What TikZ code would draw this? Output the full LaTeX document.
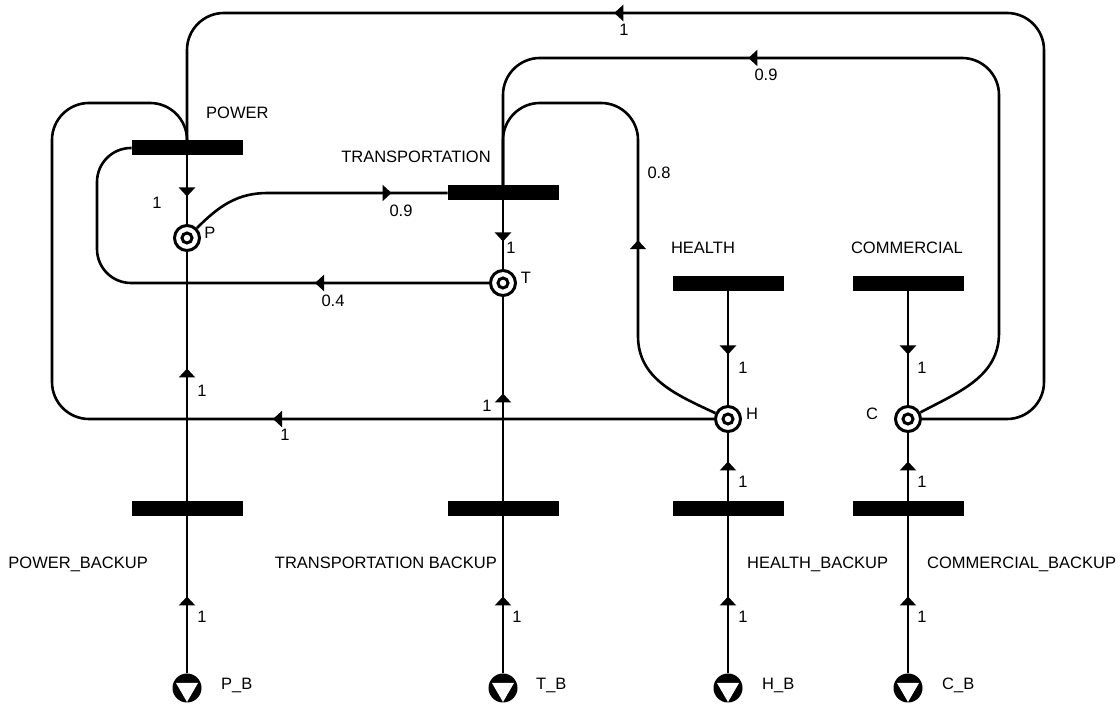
\documentclass[tikz,border=0pt]{standalone}
\usepackage{fontspec}
\setmainfont{Liberation Sans}
\usetikzlibrary{arrows.meta,decorations.markings}
\tikzset{
    pn-bar/.style = {fill=black, rectangle, minimum width=111pt, minimum height=15pt, inner sep=0pt, outer sep=0pt},
    pn-place/.style = {draw, circle, line width=3pt, fill=white, minimum size=25pt, inner sep=0pt,
        path picture={\draw[line width=3pt] (path picture bounding box.center) circle (5pt);}},
    pn-source/.style = {circle, fill=black, minimum size=29pt, inner sep=0pt, outer sep=0pt,
        path picture={\fill[white] ([shift={(-11pt,5pt)}]path picture bounding box.center) -- ++(22pt,0pt) -- ++(-11pt,-19pt) -- cycle;}},
    pn-arc/.style = {line width=2.6pt, rounded corners=37pt, postaction={decorate},
        decoration={markings, mark=at position #1 with {\arrow{Triangle[width=16pt,length=9pt]}}}},
    pn-label/.style = {font=\fontsize{16.5}{19}\selectfont, inner sep=0pt, text height=11.5pt, text depth=0pt},
}

\begin{document}
\begin{tikzpicture}[x=1pt, y=1pt]
\useasboundingbox (0,0) rectangle (1120,708);

% transitions
\node[pn-bar] (pow) at (187,560) {};
\node[pn-bar] (tra) at (503,515) {};
\node[pn-bar] (hea) at (728,424) {};
\node[pn-bar] (com) at (908,424) {};
\node[pn-bar] (powb) at (187,199) {};
\node[pn-bar] (trab) at (503,199) {};
\node[pn-bar] (heab) at (728,199) {};
\node[pn-bar] (comb) at (908,199) {};

% places
\node[pn-place] (P) at (187,470) {};
\node[pn-place] (T) at (503,425) {};
\node[pn-place] (H) at (728,289) {};
\node[pn-place] (C) at (908,289) {};

% sources
\node[pn-source] (pb) at (187,20) {};
\node[pn-source] (tb) at (503,20) {};
\node[pn-source] (hb) at (728,20) {};
\node[pn-source] (cb) at (908,20) {};

% arcs
\draw[pn-arc=41pt] (pow) -- (P);
\draw[pn-arc=41pt] (tra) -- (T);
\draw[pn-arc=63pt] (hea) -- (H);
\draw[pn-arc=63pt] (com) -- (C);
\draw[pn-arc=133pt] (powb) -- (P);
\draw[pn-arc=108pt] (trab) -- (T);
\draw[pn-arc=40pt] (heab) -- (H);
\draw[pn-arc=40pt] (comb) -- (C);
\draw[pn-arc=77pt] (pb) -- (powb);
\draw[pn-arc=77pt] (tb) -- (trab);
\draw[pn-arc=77pt] (hb) -- (heab);
\draw[pn-arc=77pt] (cb) -- (comb);
\draw[pn-arc=-56pt, sharp corners] (P) to[out=45, in=180] (268,515) -- (tra.west);
\draw[pn-arc=174pt, rounded corners=34pt] (T.west) -- (97,425) -- (97,560) -- (pow.west);
\draw[pn-arc=441pt] (H.west) -- (52,289) -- (52,605) -- (187,605) -- (pow.north);
\draw[pn-arc=926pt] (C.east) -- (1044,289) -- (1044,695) -- (187,695) -- (pow.north);
\draw[pn-arc=-357pt, sharp corners] (C) to[out=28, in=-90] (999,375) [rounded corners=37pt] -- (999,650) -- (503,650) -- (tra.north);
\draw[pn-arc=-323pt, sharp corners] (H) to[out=155, in=-90] (638,372) [rounded corners=37pt] -- (638,605) -- (503,605) -- (tra.north);

% names
\node[pn-label, anchor=west] (pow-name) at (206,595) {POWER};
\node[pn-label] (tra-name) at (416,551) {TRANSPORTATION};
\node[pn-label] (hea-name) at (703,460) {HEALTH};
\node[pn-label] (com-name) at (907,460) {COMMERCIAL};
\node[pn-label, anchor=east] (powb-name) at (148,145) {POWER\_BACKUP};
\node[pn-label, anchor=east] (trab-name) at (497,145) {TRANSPORTATION BACKUP};
\node[pn-label, anchor=west] (heab-name) at (747,145) {HEALTH\_BACKUP};
\node[pn-label, anchor=west] (comb-name) at (927,145) {COMMERCIAL\_BACKUP};
\node[pn-label] (P-name) at (210,475) {P};
\node[pn-label] (T-name) at (526,430) {T};
\node[pn-label] (H-name) at (752,294) {H};
\node[pn-label] (C-name) at (872,294) {C};
\node[pn-label, anchor=west] (pb-name) at (221,24) {P\_B};
\node[pn-label, anchor=west] (tb-name) at (536,24) {T\_B};
\node[pn-label, anchor=west] (hb-name) at (762,24) {H\_B};
\node[pn-label, anchor=west] (cb-name) at (942,24) {C\_B};

% weights
\node[pn-label] (w-powP) at (157,505) {1};
\node[pn-label] (w-Ptra) at (401,497) {0.9};
\node[pn-label] (w-traT) at (511,460) {1};
\node[pn-label] (w-Tpow) at (333,407) {0.4};
\node[pn-label] (w-Htra) at (659,535) {0.8};
\node[pn-label] (w-Cpow) at (624,678) {1};
\node[pn-label] (w-Ctra) at (766,633) {0.9};
\node[pn-label] (w-heaH) at (743,340) {1};
\node[pn-label] (w-comC) at (922,340) {1};
\node[pn-label] (w-Hpow) at (285,273) {1};
\node[pn-label] (w-powbP) at (202,317) {1};
\node[pn-label] (w-trabT) at (487,302) {1};
\node[pn-label] (w-heabH) at (743,226) {1};
\node[pn-label] (w-combC) at (922,226) {1};
\node[pn-label] (w-pb) at (202,91) {1};
\node[pn-label] (w-tb) at (517,91) {1};
\node[pn-label] (w-hb) at (743,91) {1};
\node[pn-label] (w-cb) at (922,91) {1};
\end{tikzpicture}
\end{document}
